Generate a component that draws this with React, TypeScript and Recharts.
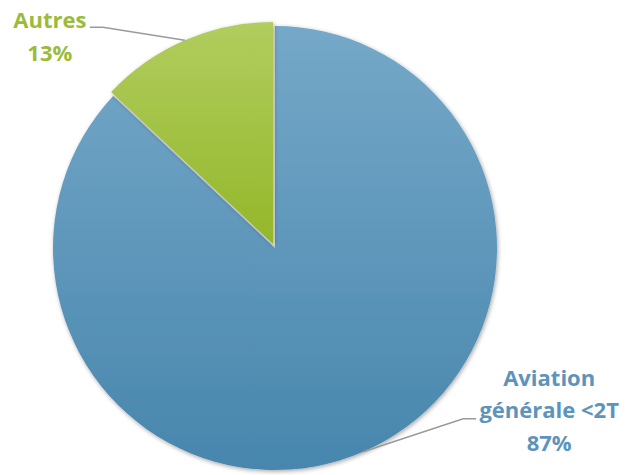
import React from "react";
import { PieChart, Pie, Cell } from "recharts";

const categories = ["Aviation générale <2T", "Autres"];
const shares = [87, 13];
const labelLines = [["Aviation", "générale <2T"], ["Autres"]];
const textColors = ["#5d94bb", "#9bbb3a"];

const data = categories.map((name, i) => ({ name, value: shares[i] }));

const RADIAN = Math.PI / 180;
const FONT = "'Open Sans', sans-serif";

// label with an elbow leader line, drawn from the slice edge
const makeLabel = (which: number) => (props: any) => {
  const { cx, cy, midAngle, outerRadius, percent, index } = props;
  if (index !== which) return null;
  const ex = cx + outerRadius * Math.cos(-midAngle * RADIAN);
  const ey = cy + outerRadius * Math.sin(-midAngle * RADIAN);
  const right = ex > cx;
  const elbowX = right ? ex + 100 : ex - 82;
  const elbowY = right ? ey - 33 : ey - 13;
  const endX = right ? elbowX + 13 : elbowX - 13;
  const tx = right ? endX + 73 : endX - 40;
  const lines = [...labelLines[index], `${Math.round(percent * 100)}%`];
  const firstBase = right ? elbowY - 33 : elbowY + 1;
  return (
    <g>
      <polyline
        points={`${ex},${ey} ${elbowX},${elbowY} ${endX},${elbowY}`}
        fill="none"
        stroke="#9a9a9a"
        strokeWidth={1.5}
      />
      <text
        x={tx}
        textAnchor="middle"
        fill={textColors[index]}
        fontFamily={FONT}
        fontWeight={700}
        fontSize={22}
      >
        {lines.map((l, i) => (
          <tspan key={i} x={tx} y={firstBase + i * 32.5}>
            {l}
          </tspan>
        ))}
      </text>
    </g>
  );
};

export default function App() {
  return (
    <div style={{ position: "absolute", left: 0, top: 0, background: "#fff" }}>
      <PieChart width={627} height={475} margin={{ top: 0, right: 0, bottom: 0, left: 0 }}>
        <defs>
          <linearGradient id="gBlue" x1="0" y1="0" x2="0" y2="1">
            <stop offset="0%" stopColor="#75a8c8" />
            <stop offset="100%" stopColor="#4886ad" />
          </linearGradient>
          <linearGradient id="gGreen" x1="0" y1="0" x2="0" y2="1">
            <stop offset="0%" stopColor="#b1cd5e" />
            <stop offset="100%" stopColor="#93b72a" />
          </linearGradient>
          <filter id="shadow" x="-10%" y="-10%" width="120%" height="120%">
            <feDropShadow dx="1" dy="1.5" stdDeviation="2" floodColor="#000" floodOpacity="0.35" />
          </filter>
        </defs>
        <Pie
          data={data}
          dataKey="value"
          nameKey="name"
          cx={275}
          cy={248}
          outerRadius={222}
          startAngle={90}
          endAngle={-270}
          stroke="none"
          labelLine={false}
          label={makeLabel(0)}
          isAnimationActive={false}
        >
          <Cell fill="url(#gBlue)" filter="url(#shadow)" />
          <Cell fill="none" />
        </Pie>
        <Pie
          data={data}
          dataKey="value"
          nameKey="name"
          cx={273}
          cy={244}
          outerRadius={222}
          startAngle={90}
          endAngle={-270}
          stroke="none"
          labelLine={false}
          label={makeLabel(1)}
          isAnimationActive={false}
        >
          <Cell fill="none" />
          <Cell fill="url(#gGreen)" filter="url(#shadow)" />
        </Pie>
      </PieChart>
    </div>
  );
}
